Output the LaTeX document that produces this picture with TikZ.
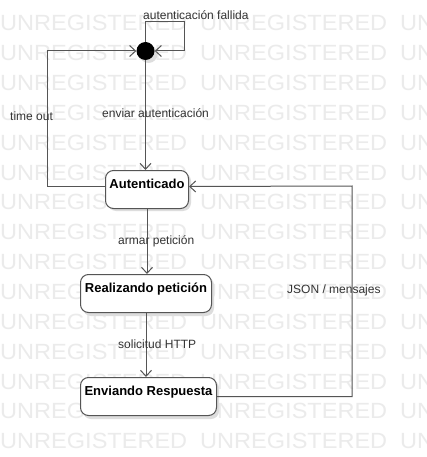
\documentclass[tikz,border=0pt]{standalone}
\usepackage{fontspec}
\setmainfont{Liberation Sans}
\usetikzlibrary{arrows.meta}
\definecolor{wm}{HTML}{EBEBEB}
\definecolor{ln}{HTML}{555555}
\definecolor{tx}{HTML}{333333}
\definecolor{shd}{HTML}{DDDDDD}
\tikzset{
  wmtext/.style={anchor=base west, inner sep=0pt, text=wm, font=\fontsize{22}{22}\selectfont, xscale=1.07},
  statebox/.style={draw=ln, line width=1pt, fill=white, rounded corners=8pt, anchor=north west,
    inner xsep=0pt, inner ysep=0pt, text height=18pt, text depth=20pt, text=black,
    font=\bfseries\fontsize{13}{13}\selectfont},
  lbl/.style={anchor=base west, inner sep=0pt, text=tx, font=\fontsize{12}{12}\selectfont},
  arr/.style={draw=ln, line width=1pt, -{Straight Barb[length=6pt,width=11pt,line width=1pt]}},
  plain/.style={draw=ln, line width=1pt},
}
\begin{document}
\begin{tikzpicture}[x=1pt,y=-1pt]
\useasboundingbox (0,0) rectangle (427,457);
\fill[white] (0,0) rectangle (427,457);
% watermark
\foreach \k in {0,...,14}{
  \foreach \xx in {0,200,400}{
    \node[wmtext] (w\k-\xx) at (\xx,30.75+29.86*\k) {UNREGISTERED};
  }
}
% shadows
\fill[shd, rounded corners=8pt] (108,173) rectangle (191,211);
\fill[shd, rounded corners=8pt] (83,277) rectangle (214,316);
\fill[shd, rounded corners=8pt] (83,380) rectangle (219,419);
\fill[shd] (148.5,54) circle (9);
% states
\node[circle, fill=black, inner sep=0pt, minimum size=18pt] (init) at (145.5,51) {};
\node[statebox, minimum width=83pt] (aut) at (105,170) {Autenticado};
\node[statebox, minimum width=131pt] (real) at (80,274) {Realizando petición};
\node[statebox, minimum width=136pt] (env) at (80,377) {Enviando Respuesta};
% helper coordinates
\coordinate (loopc) at (184,22);
\coordinate (tl) at (47,51);
\coordinate (autw) at ([yshift=3pt]aut.west);
\coordinate (aute) at ([yshift=3pt]aut.east);
\coordinate (jr) at (352,186);
% connectors
\draw[arr] (init.north) |- (loopc) |- (init.east);
\draw[arr] (autw) -| (tl) -- (init.west);
\draw[arr] (init.south) -- (init.south |- aut.north);
\draw[arr] (aut.south) -- (aut.south |- real.north);
\draw[arr] (real.south) -- (real.south |- env.north);
\draw[arr] (env.east) -| (jr) -- (aute);
% labels
\node[lbl] (l1) at (143,20) {autenticación fallida};
\node[lbl] (l2) at (10,121) {time out};
\node[lbl] (l3) at (102,118) {enviar autenticación};
\node[lbl] (l4) at (118,244) {armar petición};
\node[lbl] (l5) at (118,348) {solicitud HTTP};
\node[lbl] (l6) at (287,293) {JSON / mensajes};
\end{tikzpicture}
\end{document}
